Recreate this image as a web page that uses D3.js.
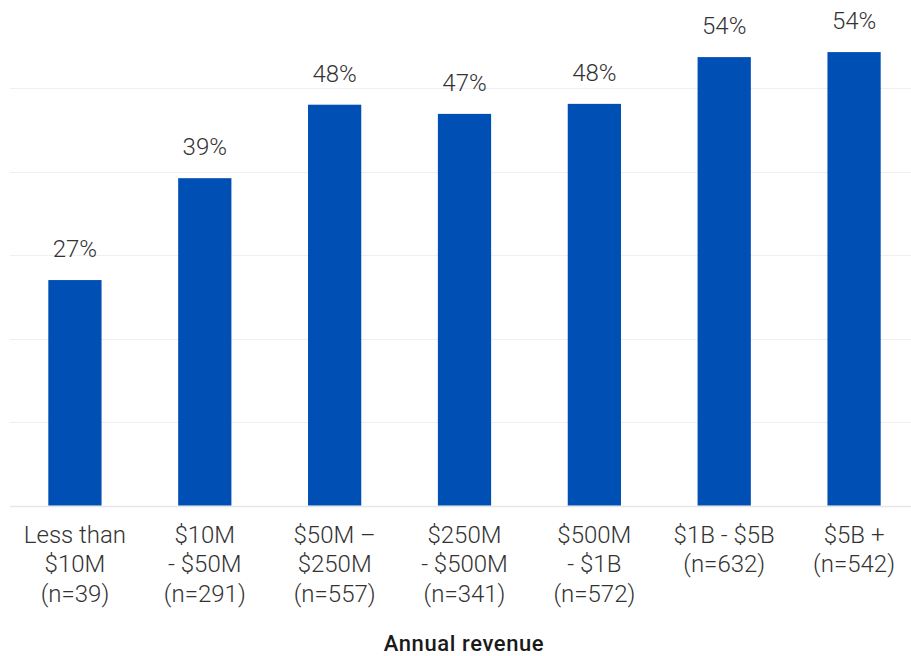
<!DOCTYPE html>
<html><head><meta charset="utf-8">
<script src="https://cdn.jsdelivr.net/npm/d3@7"></script>
<style>
html,body{margin:0;padding:0;background:#fff;}
svg{display:block;}
</style></head>
<body>
<svg id="chart" width="911" height="656"></svg>
<script>
const categoryLines = [
  ["Less than", "$10M"],
  ["$10M", "- $50M"],
  ["$50M \u2013", "$250M"],
  ["$250M", "- $500M"],
  ["$500M", "- $1B"],
  ["$1B - $5B"],
  ["$5B +"]
];
const sampleSizes = [39, 291, 557, 341, 572, 632, 542];
const values = [27.0, 39.2, 48.0, 46.9, 48.1, 53.7, 54.3];
const valueLabels = ["27%", "39%", "48%", "47%", "48%", "54%", "54%"];
const gridTicks = [0, 10, 20, 30, 40, 50];
const axisTitle = "Annual revenue";

const svg = d3.select("#chart");
const font = "Roboto, 'Noto Sans', sans-serif";

const x = d3.scaleBand()
  .domain(d3.range(values.length))
  .range([10, 919])
  .paddingInner(0.59)
  .paddingOuter(0.295);

const y = d3.scaleLinear().domain([0, 60]).range([505.5, 4.5]);

// gridlines
svg.append("g").selectAll("line").data(gridTicks).join("line")
  .attr("x1", 10).attr("x2", 911)
  .attr("y1", d => Math.round(y(d)) + 0.5)
  .attr("y2", d => Math.round(y(d)) + 0.5)
  .attr("stroke", d => d === 0 ? "#e6e6e6" : "#efefef")
  .attr("stroke-width", d => d === 0 ? 1.5 : 1.2);

// bars
svg.append("g").selectAll("rect").data(values).join("rect")
  .attr("x", (d, i) => x(i))
  .attr("width", x.bandwidth())
  .attr("y", d => y(d))
  .attr("height", d => y(0) - y(d))
  .attr("fill", "#004fb4");

// value labels
svg.append("g").selectAll("text").data(values).join("text")
  .attr("x", (d, i) => x(i) + x.bandwidth() / 2)
  .attr("y", d => y(d) - 23)
  .attr("text-anchor", "middle")
  .attr("font-family", font)
  .attr("font-weight", 300)
  .attr("font-size", 24)
  .attr("fill", "#333")
  .text((d, i) => valueLabels[i]);

// category labels
const cat = svg.append("g").selectAll("text").data(categoryLines).join("text")
  .attr("text-anchor", "middle")
  .attr("font-family", font)
  .attr("font-weight", 300)
  .attr("font-size", 24)
  .attr("fill", "#333");
cat.each(function(lines, i) {
  const t = d3.select(this);
  const all = lines.concat(["(n=" + sampleSizes[i] + ")"]);
  all.forEach((ln, j) => {
    t.append("tspan")
      .attr("x", x(i) + x.bandwidth() / 2)
      .attr("y", 542.5 + j * 29.7)
      .text(ln);
  });
});

// axis title
svg.append("text")
  .attr("x", 464)
  .attr("y", 651)
  .attr("text-anchor", "middle")
  .attr("font-family", font)
  .attr("font-weight", 500)
  .attr("font-size", 22)
  .attr("letter-spacing", 0.6)
  .attr("fill", "#1a1a1a")
  .text(axisTitle);
</script>
</body></html>
